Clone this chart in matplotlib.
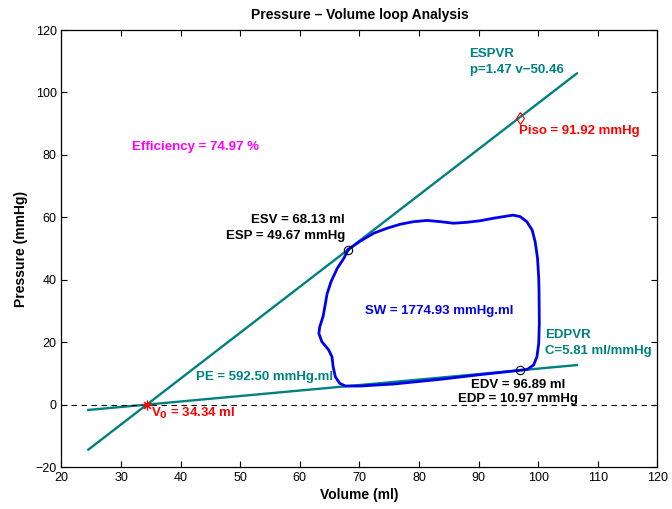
import numpy as np
import matplotlib
matplotlib.use("Agg")
import matplotlib.pyplot as plt

plt.rcParams['font.family'] = ['Liberation Sans', 'DejaVu Sans']

# --- pressure-volume values ---
esv, esp = 68.13, 49.67
edv, edp = 96.89, 10.97
v0 = 34.34
espvr_slope, espvr_icpt = 1.47, -50.46
piso = 91.92
sw = 1774.93
pe = 592.50
compliance = 5.81
efficiency = 74.97

# traced loop (volume ml, pressure mmHg), starting at end-systole
loop_v = [68.13, 67.4, 66.3, 65.25, 64.58, 64.3, 63.9, 63.35, 63.2, 63.7, 64.85,
          65.4, 65.6, 65.97, 66.7, 67.65, 70.2, 75.8, 83.6, 90.3, 96.89,
          98.2, 99.25, 99.8, 100.1, 100.2, 100.15, 100.1, 99.9, 99.5, 99.0,
          98.1, 97.0, 95.8, 94.8, 92.5, 90.3, 88.07, 85.8, 83.6, 81.4, 79.1,
          76.9, 74.65, 72.4, 70.17, 68.13]
loop_p = [49.67, 46.9, 43.7, 39.4, 35.5, 32.4, 28.2, 24.95, 22.8, 20.15, 17.5,
          15.3, 12.1, 8.9, 6.8, 5.95, 5.95, 6.6, 8.1, 9.6, 10.97,
          11.3, 12.7, 15.3, 19.6, 26.0, 36.7, 40.5, 46.9, 52.2, 55.9,
          58.6, 60.2, 60.7, 60.4, 59.7, 58.9, 58.4, 58.1, 58.6, 59.0, 58.6,
          57.8, 56.5, 54.9, 52.4, 49.67]

vol_range = [24.5, 106.5]

teal = '#008080'

fig = plt.figure(figsize=(6.72, 5.09), dpi=100)
ax = fig.add_axes([0.0915, 0.0825, 0.8866, 0.8585])

# ESPVR and EDPVR lines
v_line = np.array(vol_range)
ax.plot(v_line, espvr_slope * v_line + espvr_icpt, color=teal, lw=1.7)
ed_slope = edp / (edv - v0)
ax.plot(v_line, ed_slope * (v_line - v0), color=teal, lw=1.7)

ax.axhline(0, color='k', ls=(0, (5, 4)), lw=0.8)

# PV loop
ax.plot(loop_v, loop_p, color='#0000ee', lw=2.0, solid_joinstyle='round')

# markers
ax.plot([esv, edv], [esp, edp], 'o', mfc='none', mec='k', ms=6, mew=0.8)
ax.plot([edv], [piso], 'd', mfc='none', mec='r', ms=6, mew=0.8)
ax.plot([v0], [0], marker=(8, 2, 0), color='r', ms=7, mew=0.8, ls='none')

fs = 9.5
ls2 = 1.45
ax.text(88.5, 109.8, 'ESPVR\np=%.2f v\u2212%.2f' % (espvr_slope, -espvr_icpt),
        color=teal, fontsize=fs, fontweight='bold', ha='left', va='center',
        linespacing=ls2)
ax.text(31.9, 82.5, 'Efficiency = %.2f %%' % efficiency, color='magenta',
        fontsize=fs, fontweight='bold', ha='left', va='center')
ax.text(96.8, 87.6, 'Piso = %.2f mmHg' % piso, color='red', fontsize=fs,
        fontweight='bold', ha='left', va='center')
ax.text(67.6, 56.6, 'ESV = %.2f ml\nESP = %.2f mmHg' % (esv, esp), color='k',
        fontsize=fs, fontweight='bold', ha='right', va='center', linespacing=ls2)
ax.text(71.0, 30.0, 'SW = %.2f mmHg.ml' % sw, color='#0000ee', fontsize=fs,
        fontweight='bold', ha='left', va='center')
ax.text(101.2, 19.7, 'EDPVR\nC=%.2f ml/mmHg' % compliance, color=teal,
        fontsize=fs, fontweight='bold', ha='left', va='center', linespacing=ls2)
ax.text(edv - 0.3, 4.0, 'EDV = %.2f ml\nEDP = %.2f mmHg' % (edv, edp), color='k',
        fontsize=fs, fontweight='bold', ha='center', va='center', linespacing=1.3)
ax.text(42.5, 8.8, 'PE = %.2f mmHg.ml' % pe, color=teal, fontsize=fs,
        fontweight='bold', ha='left', va='center')
ax.text(35.1, -2.9, 'V$_\\mathbf{0}$ = %.2f ml' % v0, color='red', fontsize=fs,
        fontweight='bold', ha='left', va='center')

ax.set_xlim(20, 120)
ax.set_ylim(-20, 120)
ax.set_xticks(np.arange(20, 121, 10))
ax.set_yticks(np.arange(-20, 121, 20))
ax.tick_params(direction='in', top=True, right=True, labelsize=9, length=4, width=0.8)
for s in ax.spines.values():
    s.set_linewidth(0.9)

ax.set_title('Pressure \u2013 Volume loop Analysis', fontsize=10, fontweight='bold', pad=8)
ax.set_xlabel('Volume (ml)', fontsize=10, fontweight='bold', labelpad=3)
ax.set_ylabel('Pressure (mmHg)', fontsize=10, fontweight='bold', labelpad=5)

fig.savefig('out.png', dpi=100)
